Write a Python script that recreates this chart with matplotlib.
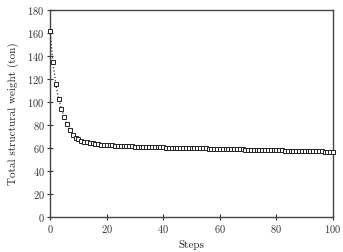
import matplotlib
matplotlib.use("Agg")
import matplotlib.pyplot as plt

plt.rcParams['font.family'] = ['cmr10', 'DejaVu Serif']
plt.rcParams['axes.formatter.use_mathtext'] = True

steps = list(range(101))
weight = [
    162.0, 135.0, 115.5, 103.0, 94.0, 87.0, 80.5, 75.5, 71.0, 69.0,
    67.5, 66.5, 65.6, 65.0, 64.4, 64.0, 63.6, 63.3, 63.0, 62.8,
    62.6, 62.4, 62.2, 62.0, 61.9, 61.8, 61.7, 61.6, 61.5, 61.4,
    61.3, 61.2, 61.1, 61.0, 60.9, 60.9, 60.8, 60.7, 60.6, 60.6,
    60.5, 60.4, 60.4, 60.3, 60.2, 60.2, 60.1, 60.0, 60.2, 60.0,
    59.9, 59.8, 59.8, 59.7, 59.6, 59.6, 59.5, 59.4, 59.5, 59.3,
    59.3, 59.2, 59.1, 59.1, 59.0, 58.9, 59.0, 58.8, 58.8, 58.7,
    58.6, 58.6, 58.5, 58.4, 58.5, 58.3, 58.3, 58.2, 58.1, 58.1,
    58.0, 57.9, 58.0, 57.8, 57.8, 57.7, 57.6, 57.6, 57.5, 57.4,
    57.5, 57.3, 57.3, 57.2, 57.1, 57.1, 57.0, 56.9, 56.9, 56.8,
    56.8,
]
xticks = [0, 20, 40, 60, 80, 100]
yticks = [0, 20, 40, 60, 80, 100, 120, 140, 160, 180]

fig = plt.figure(figsize=(3.43, 2.52), dpi=100)
ax = fig.add_axes([0.146, 0.139, 0.825, 0.821])
ax.plot(steps, weight, linestyle=':', color='#333333', linewidth=0.9,
        marker='s', markersize=2.7, markerfacecolor='white',
        markeredgecolor='#222222', markeredgewidth=0.7, clip_on=False, zorder=3)
ax.set_xlim(0, 100)
ax.set_ylim(0, 180)
ax.set_xticks(xticks)
ax.set_yticks(yticks)
ax.tick_params(direction='inout', length=4, width=0.8, labelsize=7.5,
               colors='#333333', pad=2)
for s in ax.spines.values():
    s.set_linewidth(1.0)
    s.set_color('#444444')
ax.set_xlabel('Steps', fontsize=8, labelpad=4, color='#222222')
ax.set_ylabel('Total structural weight (ton)', fontsize=8, labelpad=6, color='#222222')
fig.savefig('out.png', dpi=100)
